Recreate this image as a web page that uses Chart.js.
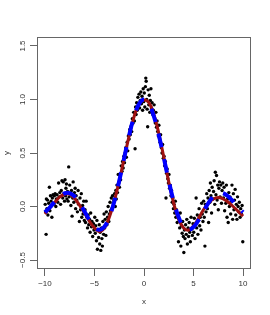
<!DOCTYPE html>
<html>
<head>
<meta charset="utf-8">
<script src="https://cdn.jsdelivr.net/npm/chart.js@4"></script>
<style>
  html, body { margin: 0; padding: 0; background: #fff; }
  #chart { display: block; }
</style>
</head>
<body>
<canvas id="chart" width="270" height="315"></canvas>
<script>
// Ticks
const xTicks = [-10, -5, 0, 5, 10];
const yTicks = [-0.5, 0, 0.5, 1, 1.5];
const yTickLabels = ['\u22120.5', '0.0', '0.5', '1.0', '1.5'];

// Observaciones (x, y)
const points = [
  [-9.97,0.02],[-9.93,-0.05],[-9.88,-0.26],[-9.85,0.07],[-9.8,-0.02],[-9.74,0.06],[-9.7,-0.08],[-9.62,0.03],[-9.55,0.18],[-9.5,-0.04],[-9.44,0.1],[-9.38,0.05],[-9.3,-0.1],[-9.25,0.08],[-9.18,0.11],[-9.1,0.02],[-9.05,0.1],
  [-8.97,0.12],[-8.9,0.0],[-8.85,0.07],[-8.78,0.11],[-8.7,0.04],[-8.62,0.22],[-8.55,0.09],[-8.5,0.13],[-8.42,0.02],[-8.35,0.15],[-8.28,0.24],[-8.2,0.08],[-8.15,0.23],[-8.08,0.12],[-8.02,0.05],[-7.97,0.25],[-7.92,0.1],[-7.88,0.17],[-7.83,0.21],[-7.78,0.07],
  [-7.72,0.14],[-7.66,0.05],[-7.6,0.37],[-7.55,0.09],[-7.5,0.2],[-7.44,0.12],[-7.38,0.01],[-7.32,0.15],[-7.26,-0.09],[-7.2,0.08],[-7.15,0.23],[-7.08,0.04],[-7.02,0.13],
  [-6.95,0.17],[-6.9,-0.02],[-6.85,0.1],[-6.78,0.06],[-6.72,-0.05],[-6.65,0.15],[-6.6,0.02],[-6.52,-0.14],[-6.46,0.08],[-6.4,-0.03],[-6.33,0.12],[-6.28,-0.1],[-6.2,0.01],[-6.15,-0.07],[-6.08,0.05],[-6.02,-0.13],
  [-5.95,-0.03],[-5.9,-0.15],[-5.84,0.05],[-5.78,-0.1],[-5.7,-0.2],[-5.64,-0.08],[-5.58,-0.17],[-5.5,-0.12],[-5.44,-0.24],[-5.38,-0.06],[-5.3,-0.19],[-5.25,-0.14],[-5.18,-0.28],[-5.1,-0.16],[-5.05,-0.22],
  [-4.97,-0.1],[-4.92,-0.25],[-4.87,-0.18],[-4.8,-0.32],[-4.75,-0.13],[-4.7,-0.4],[-4.64,-0.22],[-4.58,-0.29],[-4.52,-0.17],[-4.47,-0.35],[-4.42,-0.24],[-4.36,-0.41],[-4.3,-0.2],[-4.25,-0.3],[-4.2,-0.37],[-4.15,-0.14],[-4.08,-0.26],[-4.03,-0.07],
  [-3.97,-0.2],[-3.92,-0.12],[-3.85,-0.27],[-3.8,-0.05],[-3.74,-0.17],[-3.68,-0.1],[-3.62,0.0],[-3.55,-0.14],[-3.5,-0.07],[-3.43,0.04],[-3.38,-0.04],[-3.3,0.08],[-3.25,-0.02],[-3.18,0.1],[-3.1,0.03],[-3.05,0.06],
  [-2.97,0.12],[-2.9,0.0],[-2.85,0.15],[-2.8,0.07],[-2.73,0.2],[-2.68,0.13],[-2.6,0.3],[-2.55,0.22],[-2.48,0.18],[-2.42,0.3],[-2.36,0.25],[-2.3,0.38],[-2.22,0.33],[-2.16,0.42],[-2.1,0.36],[-2.03,0.47],
  [-1.97,0.41],[-1.9,0.5],[-1.84,0.55],[-1.78,0.46],[-1.7,0.6],[-1.64,0.52],[-1.58,0.66],[-1.5,0.63],[-1.44,0.72],[-1.38,0.67],[-1.3,0.75],[-1.24,0.7],[-1.18,0.82],[-1.1,0.78],[-1.04,0.88],
  [-0.97,0.8],[-0.9,0.54],[-0.85,0.93],[-0.8,0.86],[-0.74,0.97],[-0.68,0.9],[-0.62,1.02],[-0.55,0.95],[-0.5,1.05],[-0.44,0.92],[-0.38,0.99],[-0.32,1.07],[-0.26,0.96],[-0.2,1.03],[-0.14,0.9],[-0.08,1.1],[-0.03,0.98],
  [0.03,1.06],[0.08,0.93],[0.14,1.12],[0.18,1.2],[0.22,1.17],[0.27,1.0],[0.32,0.91],[0.37,0.745],[0.42,1.09],[0.48,0.95],[0.53,1.04],[0.58,0.88],[0.64,0.99],[0.7,1.1],[0.75,0.92],[0.82,0.97],[0.88,0.86],[0.94,0.9],
  [1.02,0.95],[1.08,0.82],[1.14,0.78],[1.2,0.88],[1.26,0.74],[1.32,0.8],[1.38,0.7],[1.45,0.66],[1.5,0.76],[1.56,0.64],[1.62,0.6],[1.68,0.67],[1.75,0.55],[1.82,0.5],[1.88,0.58],[1.95,0.45],
  [2.02,0.47],[2.08,0.38],[2.15,0.42],[2.22,0.08],[2.28,0.31],[2.34,0.35],[2.4,0.26],[2.46,0.22],[2.52,0.3],[2.58,0.17],[2.65,0.2],[2.72,0.1],[2.78,0.15],[2.85,0.04],[2.92,0.08],[2.97,-0.02],
  [3.03,0.02],[3.1,-0.06],[3.16,0.05],[3.22,-0.1],[3.28,-0.03],[3.35,-0.15],[3.42,-0.08],[3.48,-0.33],[3.54,-0.12],[3.6,-0.2],[3.66,-0.06],[3.72,-0.37],[3.78,-0.18],[3.85,-0.25],[3.9,-0.14],[3.97,-0.28],
  [4.02,-0.43],[4.08,-0.22],[4.14,-0.3],[4.2,-0.17],[4.26,-0.26],[4.32,-0.12],[4.38,-0.35],[4.45,-0.2],[4.5,-0.28],[4.56,-0.15],[4.62,-0.24],[4.68,-0.33],[4.75,-0.1],[4.82,-0.21],[4.88,-0.27],[4.95,-0.16],
  [5.02,-0.24],[5.08,-0.11],[5.15,-0.3],[5.2,-0.17],[5.26,0.08],[5.32,-0.2],[5.38,-0.08],[5.44,-0.26],[5.5,-0.13],[5.56,-0.02],[5.62,-0.18],[5.68,-0.1],[5.75,-0.22],[5.82,0.03],[5.88,-0.07],[5.95,-0.14],
  [6.02,0.05],[6.08,-0.1],[6.15,-0.37],[6.2,0.02],[6.26,-0.05],[6.33,0.12],[6.4,-0.02],[6.46,0.08],[6.52,-0.15],[6.58,0.15],[6.65,0.04],[6.7,0.22],[6.76,0.1],[6.82,-0.06],[6.88,0.18],[6.95,0.07],
  [7.02,0.14],[7.08,0.24],[7.14,0.02],[7.2,0.32],[7.26,0.11],[7.32,0.29],[7.38,0.06],[7.44,0.2],[7.5,-0.03],[7.56,0.17],[7.62,0.23],[7.68,0.09],[7.75,0.2],[7.82,0.03],[7.88,0.15],[7.95,0.22],
  [8.02,0.08],[8.08,0.18],[8.14,-0.04],[8.2,0.11],[8.26,0.03],[8.32,0.2],[8.38,-0.1],[8.44,0.07],[8.5,-0.15],[8.56,0.13],[8.62,0.0],[8.68,0.09],[8.75,-0.07],[8.82,0.05],[8.88,0.2],[8.95,-0.12],
  [9.02,0.12],[9.08,-0.03],[9.14,0.06],[9.2,0.16],[9.26,-0.08],[9.32,0.02],[9.38,-0.12],[9.44,0.09],[9.5,0.0],[9.56,-0.05],[9.62,0.04],[9.7,-0.1],[9.76,-0.02],[9.84,-0.07],[9.9,0.01],[9.97,-0.33]
];

// Curvas (leidas cada 0.5 en x)
const curveX = [-10,-9.5,-9,-8.5,-8,-7.5,-7,-6.5,-6,-5.5,-5,-4.5,-4,-3.5,-3,-2.5,-2,-1.5,-1,-0.5,0,
                0.5,1,1.5,2,2.5,3,3.5,4,4.5,5,5.5,6,6.5,7,7.5,8,8.5,9,9.5,10];
const redY  = [-0.07,-0.01,0.04,0.09,0.115,0.115,0.075,0.01,-0.06,-0.14,-0.2,-0.235,-0.2,-0.1,0.05,0.24,0.45,0.66,0.84,0.96,0.995,
               0.97,0.86,0.68,0.46,0.23,0.03,-0.12,-0.2,-0.22,-0.18,-0.11,-0.03,0.03,0.07,0.085,0.07,0.04,0.0,-0.045,-0.09];
const blueY = [-0.054,-0.008,0.046,0.094,0.124,0.125,0.094,0.033,-0.047,-0.128,-0.192,-0.217,-0.189,-0.1,0.047,0.239,0.455,0.665,0.841,0.959,1.0,
               0.959,0.841,0.665,0.455,0.239,0.047,-0.1,-0.189,-0.217,-0.192,-0.128,-0.047,0.033,0.094,0.125,0.124,0.094,0.046,-0.008,-0.054];

const FONT = 'Liberation Sans, Arial, Helvetica, sans-serif';
const minus = v => String(v).replace('-', '\u2212');

// Caja, etiquetas del eje y y titulos al estilo R
const rFrame = {
  id: 'rFrame',
  afterDraw(chart) {
    const { ctx, chartArea: a, scales } = chart;
    ctx.save();
    ctx.strokeStyle = '#666';
    ctx.lineWidth = 1;
    ctx.strokeRect(a.left + 0.5, a.top + 0.5, a.right - a.left - 1, a.bottom - a.top - 1);

    ctx.fillStyle = '#333';
    ctx.font = '8px ' + FONT;
    ctx.textAlign = 'center';
    ctx.textBaseline = 'middle';
    yTicks.forEach((v, i) => {
      const py = scales.y.getPixelForValue(v);
      ctx.save();
      ctx.translate(23, py);
      ctx.rotate(-Math.PI / 2);
      ctx.fillText(yTickLabels[i], 0, 0);
      ctx.restore();
    });

    ctx.fillText('x', (a.left + a.right) / 2, 302);
    ctx.save();
    ctx.translate(7, (a.top + a.bottom) / 2);
    ctx.rotate(-Math.PI / 2);
    ctx.fillText('y', 0, 0);
    ctx.restore();
    ctx.restore();
  }
};

new Chart(document.getElementById('chart'), {
  type: 'scatter',
  data: {
    datasets: [
      {
        data: points.map(p => ({ x: p[0], y: p[1] })),
        pointRadius: 1.7, pointBackgroundColor: '#000', pointBorderWidth: 0,
        showLine: false, order: 2
      },
      {
        type: 'line',
        data: curveX.map((x, i) => ({ x, y: redY[i] })),
        borderColor: '#9e1212', borderWidth: 3, pointRadius: 0,
        tension: 0.4, fill: false, order: 1
      },
      {
        type: 'line',
        data: curveX.map((x, i) => ({ x, y: blueY[i] })),
        borderColor: '#0000ff', borderWidth: 4, borderDash: [14, 12], pointRadius: 0,
        tension: 0.4, fill: false, order: 0
      }
    ]
  },
  options: {
    responsive: false, animation: false, devicePixelRatio: 1,
    layout: { padding: { top: 37, right: 19, left: 0, bottom: 0 } },
    plugins: { legend: { display: false }, tooltip: { enabled: false } },
    scales: {
      x: {
        type: 'linear', position: 'bottom', min: -10.8, max: 10.8,
        afterBuildTicks: s => { s.ticks = xTicks.map(v => ({ value: v })); },
        afterFit: s => { s.height = 46; },
        grid: { drawOnChartArea: false, drawTicks: true, tickLength: 7, color: '#666' },
        border: { display: false },
        ticks: { font: { size: 8, family: FONT }, color: '#333', padding: 3, maxRotation: 0, callback: v => minus(v) }
      },
      y: {
        type: 'linear', min: -0.584, max: 1.584,
        afterBuildTicks: s => { s.ticks = yTicks.map(v => ({ value: v })); },
        afterFit: s => { s.width = 37; },
        grid: { drawOnChartArea: false, drawTicks: true, tickLength: 7, color: '#666' },
        border: { display: false },
        ticks: { display: false }
      }
    }
  },
  plugins: [rFrame]
});
</script>
</body>
</html>
